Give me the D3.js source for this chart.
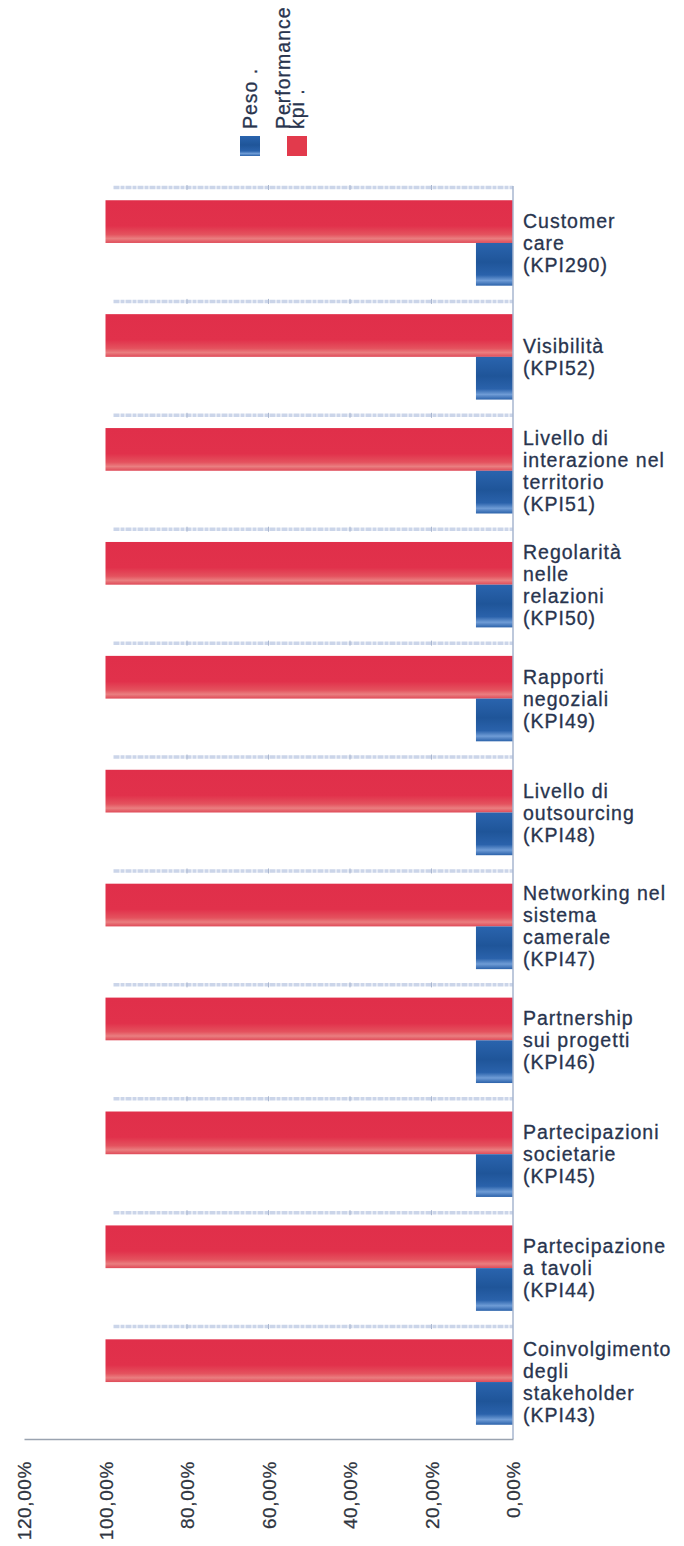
<!DOCTYPE html>
<html>
<head>
<meta charset="utf-8">
<script src="https://cdn.jsdelivr.net/npm/d3@7"></script>
<style>
  html, body { margin: 0; padding: 0; background: #ffffff; }
  svg { display: block; }
  text { font-family: "Liberation Sans", Arial, sans-serif; }
</style>
</head>
<body>
<svg id="chart" width="684" height="1546"></svg>
<script>
// KPI categories, top to bottom
const categories = [
  "Customer care (KPI290)",
  "Visibilità (KPI52)",
  "Livello di interazione nel territorio (KPI51)",
  "Regolarità nelle relazioni (KPI50)",
  "Rapporti negoziali (KPI49)",
  "Livello di outsourcing (KPI48)",
  "Networking nel sistema camerale (KPI47)",
  "Partnership sui progetti (KPI46)",
  "Partecipazioni societarie (KPI45)",
  "Partecipazione a tavoli (KPI44)",
  "Coinvolgimento degli stakeholder (KPI43)"
];
// wrapped category labels as they appear next to the axis
const categoryLines = [
  ["Customer", "care", "(KPI290)"],
  ["Visibilità", "(KPI52)"],
  ["Livello di", "interazione nel", "territorio", "(KPI51)"],
  ["Regolarità", "nelle", "relazioni", "(KPI50)"],
  ["Rapporti", "negoziali", "(KPI49)"],
  ["Livello di", "outsourcing", "(KPI48)"],
  ["Networking nel", "sistema", "camerale", "(KPI47)"],
  ["Partnership", "sui progetti", "(KPI46)"],
  ["Partecipazioni", "societarie", "(KPI45)"],
  ["Partecipazione", "a tavoli", "(KPI44)"],
  ["Coinvolgimento", "degli", "stakeholder", "(KPI43)"]
];
// series values in percent
const performanceKpi = [100, 100, 100, 100, 100, 100, 100, 100, 100, 100, 100];
const peso = [9.09, 9.09, 9.09, 9.09, 9.09, 9.09, 9.09, 9.09, 9.09, 9.09, 9.09];
const seriesNames = ["Performance kpi .", "Peso ."];
const tickValues = [0, 20, 40, 60, 80, 100, 120];

const svg = d3.select("#chart");
const defs = svg.append("defs");

// bar shading
function gradient(id, stops) {
  const g = defs.append("linearGradient").attr("id", id)
    .attr("x1", 0).attr("y1", 0).attr("x2", 0).attr("y2", 1);
  stops.forEach(([o, c]) => g.append("stop").attr("offset", o).attr("stop-color", c));
}
gradient("gradRed", [[0, "#e02f4a"], [0.6, "#e1314b"], [0.8, "#e4525e"], [0.9, "#ea7e80"], [1, "#df4a58"]]);
gradient("gradBlue", [[0, "#2a64ae"], [0.45, "#1f5599"], [0.75, "#2a62ab"], [0.88, "#6f9cd6"], [1, "#2b62aa"]]);

const plotTop = 186, plotBottom = 1439, axisX = 513, leftX = 24;

const x = d3.scaleLinear().domain([0, 120]).range([axisX, leftX]);
const y = d3.scaleBand().domain(categories).range([plotTop, plotBottom])
  .paddingInner(0.25).paddingOuter(0.125);
const ySub = d3.scaleBand().domain(seriesNames).range([0, y.bandwidth()]);

const rows = categories.map((c, i) => ({
  cat: c, lines: categoryLines[i], perf: performanceKpi[i], peso: peso[i]
}));

// light band separators with small ticks
const sepG = svg.append("g");
rows.forEach(d => {
  const yy = y(d.cat) - y.paddingOuter() * y.step() + 1.5;
  sepG.append("line")
    .attr("x1", x(d.perf) + 8).attr("x2", axisX)
    .attr("y1", yy).attr("y2", yy)
    .attr("stroke", "#cbd5e9").attr("stroke-width", 3.5)
    .attr("stroke-dasharray", "6,1,4,1");
  [20, 40, 60, 80].forEach(t => {
    sepG.append("line")
      .attr("x1", x(t)).attr("x2", x(t))
      .attr("y1", yy - 2.5).attr("y2", yy + 2.5)
      .attr("stroke", "#a9b6cf").attr("stroke-width", 1);
  });
});

// bars
const barG = svg.append("g");
barG.selectAll("rect.perf").data(rows).join("rect")
  .attr("class", "perf")
  .attr("x", d => x(d.perf))
  .attr("y", d => y(d.cat) + ySub(seriesNames[0]))
  .attr("width", d => x(0) - x(d.perf))
  .attr("height", ySub.bandwidth())
  .attr("fill", "url(#gradRed)");
barG.selectAll("rect.peso").data(rows).join("rect")
  .attr("class", "peso")
  .attr("x", d => x(d.peso))
  .attr("y", d => y(d.cat) + ySub(seriesNames[1]))
  .attr("width", d => x(0) - x(d.peso))
  .attr("height", ySub.bandwidth())
  .attr("fill", "url(#gradBlue)");

// category axis line
svg.append("line")
  .attr("x1", axisX).attr("x2", axisX)
  .attr("y1", plotTop).attr("y2", plotBottom)
  .attr("stroke", "#a7b6cf").attr("stroke-width", 1.5);

// value axis with rotated tick labels
const fmt = v => d3.format(".2f")(v).replace(".", ",") + "%";
const xAxis = svg.append("g")
  .attr("transform", `translate(0,${plotBottom})`)
  .call(d3.axisBottom(x).tickValues(tickValues).tickFormat(fmt).tickSize(0).tickSizeOuter(0));
xAxis.select(".domain").attr("stroke", "#9aa3b0").attr("stroke-width", 1.5);
xAxis.selectAll(".tick text")
  .attr("transform", "rotate(-90)")
  .attr("x", -22).attr("y", 0).attr("dy", "0.36em")
  .style("text-anchor", "end")
  .attr("fill", "#2f3540")
  .attr("stroke", "#2f3540").attr("stroke-width", 0.25)
  .style("font-size", "19px")
  .style("letter-spacing", "0.6px");

// category labels
const labG = svg.append("g");
const lineH = 22;
rows.forEach(d => {
  const cy = y(d.cat) + y.bandwidth() / 2;
  const n = d.lines.length;
  const t = labG.append("text")
    .attr("x", 523)
    .attr("y", cy - (n - 1) * lineH / 2)
    .attr("fill", "#28344e")
    .attr("stroke", "#28344e").attr("stroke-width", 0.3)
    .style("font-size", "19.5px")
    .style("letter-spacing", "1px");
  d.lines.forEach((s, i) => {
    t.append("tspan").attr("x", 523).attr("dy", i === 0 ? "0.36em" : lineH).text(s);
  });
});

// legend, rotated; each entry gives the baseline offsets of its text lines
const legend = svg.append("g");
const legendItems = [
  { lines: ["Peso ."], color: "url(#gradBlue)", cx: 250, base: [7] },
  { lines: ["Performance", "kpi ."], color: "#e23a4c", cx: 297, base: [-7, 6.5] }
];
legendItems.forEach(it => {
  legend.append("rect")
    .attr("x", it.cx - 10).attr("y", 136).attr("width", 20).attr("height", 20)
    .attr("fill", it.color);
  it.lines.forEach((s, i) => {
    legend.append("text")
      .attr("transform", `translate(${it.cx + it.base[i]},129) rotate(-90)`)
      .attr("fill", "#28344e")
      .attr("stroke", "#28344e").attr("stroke-width", 0.3)
      .style("font-size", "19.5px")
      .style("letter-spacing", "1px")
      .text(s);
  });
});
</script>
</body>
</html>
